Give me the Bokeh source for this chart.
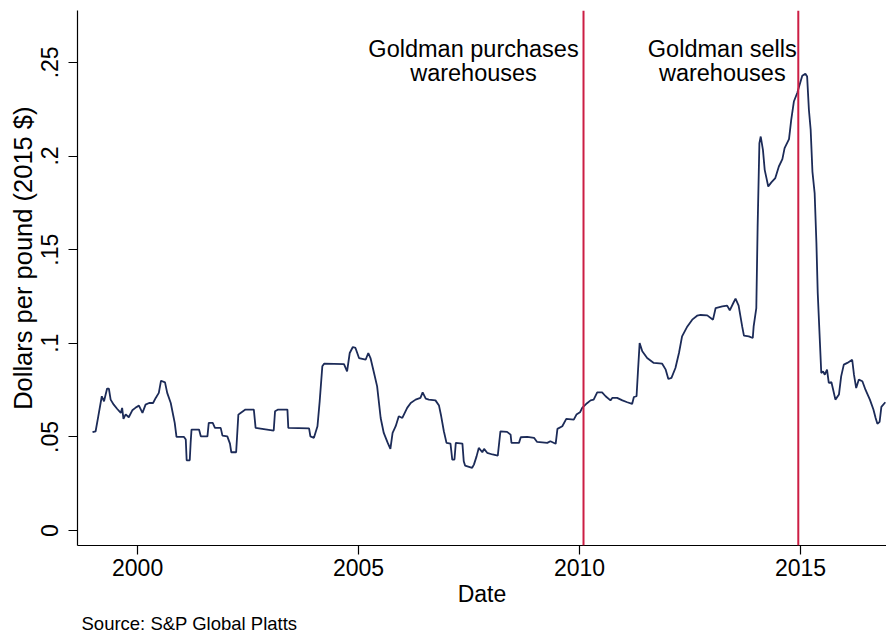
import math
from bokeh.plotting import figure
from bokeh.models import FixedTicker, Span, Title, Range1d
from bokeh.core.properties import value
from bokeh.embed import file_html
from bokeh.resources import INLINE

# ---------------- data ----------------
dates = [
    1998.98, 1999.05, 1999.11, 1999.19, 1999.24, 1999.31, 1999.35, 1999.39, 1999.46, 1999.54,
    1999.62, 1999.65, 1999.68, 1999.73, 1999.80, 1999.88, 1999.95,
    2000.03, 2000.11, 2000.18, 2000.26, 2000.35, 2000.41, 2000.48, 2000.53, 2000.62, 2000.67,
    2000.75, 2000.81, 2000.84, 2000.88,
    2001.05, 2001.09, 2001.11, 2001.18, 2001.20, 2001.22, 2001.39, 2001.43, 2001.58, 2001.61,
    2001.70, 2001.75, 2001.88, 2001.92,
    2002.03, 2002.09, 2002.12, 2002.23, 2002.28, 2002.33, 2002.44, 2002.63, 2002.67,
    2003.08, 2003.11, 2003.18, 2003.39, 2003.41, 2003.88, 2003.91, 2003.99,
    2004.07, 2004.12, 2004.18, 2004.22, 2004.67, 2004.74, 2004.80, 2004.87, 2004.93,
    2005.01, 2005.16, 2005.22, 2005.27, 2005.35, 2005.42, 2005.50, 2005.57, 2005.66, 2005.72,
    2005.77, 2005.84, 2005.91, 2005.99,
    2006.10, 2006.18, 2006.29, 2006.40, 2006.45, 2006.52, 2006.59, 2006.74, 2006.82, 2006.87,
    2006.93, 2006.99,
    2007.08, 2007.12, 2007.17, 2007.20, 2007.35, 2007.38, 2007.41, 2007.57, 2007.61, 2007.67,
    2007.72, 2007.80, 2007.84, 2007.91,
    2008.03, 2008.15, 2008.21, 2008.36, 2008.44, 2008.46, 2008.63, 2008.67, 2008.82, 2008.97,
    2009.04, 2009.27, 2009.34, 2009.46, 2009.50, 2009.61, 2009.70, 2009.87, 2009.93,
    2010.01, 2010.06, 2010.17, 2010.25, 2010.32, 2010.40, 2010.51, 2010.59, 2010.70, 2010.74,
    2010.85, 2010.97,
    2011.08, 2011.19, 2011.23, 2011.29, 2011.32, 2011.36, 2011.42, 2011.53, 2011.68, 2011.87,
    2011.95,
    2012.01, 2012.08, 2012.17, 2012.25, 2012.32, 2012.44, 2012.55, 2012.66, 2012.74, 2012.89,
    2013.02, 2013.08, 2013.23, 2013.34, 2013.40, 2013.48, 2013.53, 2013.60, 2013.68, 2013.72,
    2013.83, 2013.92, 2013.94,
    2014.00, 2014.03, 2014.07, 2014.10, 2014.15, 2014.19, 2014.23, 2014.27, 2014.34, 2014.43,
    2014.51, 2014.59, 2014.64, 2014.74, 2014.79, 2014.85, 2014.93, 2014.98,
    2015.04, 2015.11, 2015.15, 2015.19, 2015.23, 2015.27, 2015.32, 2015.36, 2015.39, 2015.44,
    2015.47, 2015.51, 2015.55, 2015.60, 2015.64, 2015.70, 2015.73, 2015.79, 2015.87, 2015.92,
    2015.98,
    2016.06, 2016.17, 2016.21, 2016.26, 2016.32, 2016.40, 2016.47, 2016.57, 2016.65, 2016.70,
    2016.74, 2016.79, 2016.83, 2016.92,
]

price = [
    0.0525, 0.0530, 0.0610, 0.0717, 0.0690, 0.0758, 0.0758, 0.0699, 0.0672, 0.0649,
    0.0628, 0.0655, 0.0596, 0.0620, 0.0605, 0.0642, 0.0655,
    0.0667, 0.0628, 0.0672, 0.0681, 0.0681, 0.0708, 0.0735, 0.0800, 0.0791, 0.0735,
    0.0681, 0.0610, 0.0575, 0.0500,
    0.0500, 0.0486, 0.0375, 0.0375, 0.0468, 0.0539, 0.0539, 0.0503, 0.0503, 0.0575,
    0.0575, 0.0548, 0.0548, 0.0507,
    0.0503, 0.0464, 0.0418, 0.0418, 0.0619, 0.0628, 0.0646, 0.0646, 0.0548,
    0.0534, 0.0637, 0.0646, 0.0646, 0.0548, 0.0546, 0.0503, 0.0495,
    0.0557, 0.0690, 0.0877, 0.0891, 0.0889, 0.0850, 0.0948, 0.0980, 0.0975,
    0.0921, 0.0912, 0.0948, 0.0921, 0.0841, 0.0770, 0.0601, 0.0521, 0.0468, 0.0436,
    0.0521, 0.0557, 0.0610, 0.0601,
    0.0655, 0.0681, 0.0699, 0.0708, 0.0738, 0.0704, 0.0699, 0.0695, 0.0667, 0.0610,
    0.0530, 0.0468,
    0.0464, 0.0379, 0.0379, 0.0468, 0.0464, 0.0370, 0.0347, 0.0335, 0.0352, 0.0396,
    0.0441, 0.0418, 0.0436, 0.0415,
    0.0406, 0.0400, 0.0530, 0.0527, 0.0512, 0.0468, 0.0468, 0.0498, 0.0500, 0.0495,
    0.0473, 0.0468, 0.0477, 0.0463, 0.0543, 0.0557, 0.0596, 0.0592, 0.0619,
    0.0631, 0.0655, 0.0680, 0.0695, 0.0699, 0.0738, 0.0738, 0.0717, 0.0695, 0.0708,
    0.0708, 0.0695,
    0.0685, 0.0676, 0.0713, 0.0717, 0.0841, 0.1001, 0.0957, 0.0921, 0.0895, 0.0891,
    0.0859,
    0.0809, 0.0815, 0.0868, 0.0948, 0.1037, 0.1090, 0.1126, 0.1147, 0.1151, 0.1149,
    0.1126, 0.1188, 0.1197, 0.1201, 0.1176, 0.1215, 0.1238, 0.1201, 0.1090, 0.1041,
    0.1037, 0.1028, 0.1090,
    0.1188, 0.1624, 0.2069, 0.2104, 0.2033, 0.1926, 0.1882, 0.1837, 0.1859, 0.1882,
    0.1944, 0.1983, 0.2042, 0.2090, 0.2193, 0.2291, 0.2339, 0.2380,
    0.2428, 0.2439, 0.2424, 0.2247, 0.2140, 0.1917, 0.1802, 0.1535, 0.1268, 0.1001,
    0.0841, 0.0850, 0.0832, 0.0859, 0.0788, 0.0792, 0.0761, 0.0699, 0.0726, 0.0823,
    0.0886,
    0.0895, 0.0912, 0.0832, 0.0761, 0.0806, 0.0797, 0.0752, 0.0699, 0.0646, 0.0601,
    0.0570, 0.0580, 0.0660, 0.0685,
]

event_dates = [2010.09, 2014.95]
event_line1 = ["Goldman purchases", "Goldman sells"]
event_line2 = ["warehouses", "warehouses"]

x_ticks = [2000, 2005, 2010, 2015]
y_ticks = [0, 0.05, 0.1, 0.15, 0.2, 0.25]
y_tick_labels = ["0", ".05", ".1", ".15", ".2", ".25"]

# ---------------- styling ----------------
FONT = "Liberation Sans"
NAVY = "#1c2b58"
RED = "#cc1e44"

p = figure(width=886, height=634, output_backend="svg", toolbar_location=None,
           x_range=Range1d(1998.64, 2016.946), y_range=Range1d(-0.008, 0.2777),
           min_border_left=77, min_border_right=0, min_border_top=10, min_border_bottom=0)
p.outline_line_color = None
p.grid.visible = False
p.background_fill_color = "white"
p.border_fill_color = "white"

p.line(dates, price, line_color=NAVY, line_width=1.8)

for d in event_dates:
    p.add_layout(Span(location=d, dimension="height", line_color=RED, line_width=2))

offsets = [-110, -76]
for d, t1, t2, off in zip(event_dates, event_line1, event_line2, offsets):
    p.text(x=[d], y=[0.2572], text=[t1], x_offset=off, text_align="center",
           text_baseline="alphabetic", text_font=value(FONT), text_font_size="23.5px",
           text_color="black")
    p.text(x=[d], y=[0.2444], text=[t2], x_offset=off, text_align="center",
           text_baseline="alphabetic", text_font=value(FONT), text_font_size="23.5px",
           text_color="black")

for ax in (p.xaxis[0], p.yaxis[0]):
    ax.axis_line_color = "black"
    ax.axis_line_width = 1.2
    ax.major_tick_line_color = "black"
    ax.major_tick_line_width = 1.2
    ax.major_tick_in = 0
    ax.major_tick_out = 9
    ax.minor_tick_line_color = None
    ax.major_label_text_font = FONT
    ax.major_label_text_font_size = "23px"
    ax.major_label_text_color = "black"
    ax.axis_label_text_font = FONT
    ax.axis_label_text_font_style = "normal"
    ax.axis_label_text_font_size = "23px"
    ax.axis_label_text_color = "black"

p.xaxis.ticker = FixedTicker(ticks=x_ticks)
p.xaxis.axis_label = "Date"
p.xaxis.major_label_standoff = 4
p.xaxis.axis_label_standoff = 2

p.yaxis.ticker = FixedTicker(ticks=y_ticks)
p.yaxis.major_label_overrides = dict(zip(y_ticks, y_tick_labels))
p.yaxis.major_label_orientation = "vertical"
p.yaxis.major_label_standoff = 10

p.add_layout(Title(text="Dollars per pound (2015 $)", text_font=FONT, text_font_size="25.5px",
                   text_font_style="normal", text_color="black", align="right",
                   offset=96, standoff=4), "left")

p.add_layout(Title(text="Source: S&P Global Platts", text_font=FONT, text_font_size="18.5px",
                   text_font_style="normal", text_color="black", align="left",
                   offset=4, standoff=2), "below")

open("out.html", "w").write(file_html(p, INLINE))
